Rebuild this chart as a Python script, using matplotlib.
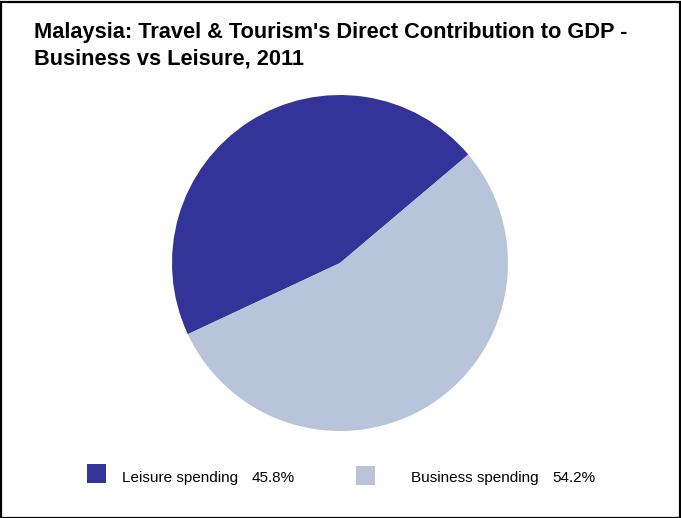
import matplotlib
matplotlib.use("Agg")
import matplotlib.pyplot as plt
from matplotlib.patches import Rectangle

plt.rcParams['font.family'] = ['Liberation Sans', 'DejaVu Sans']

labels = ['Leisure spending', 'Business spending']
shares = [45.8, 54.2]
colors = ['#333399', '#b7c4da']
title_lines = ["Malaysia: Travel & Tourism's Direct Contribution to GDP -",
               "Business vs Leisure, 2011"]

W, H = 681, 518
fig = plt.figure(figsize=(W / 100, H / 100), dpi=100)

# frame round the whole chart
fig.add_artist(Rectangle((0.5 / W, 0.5 / H), (W - 2) / W, (H - 2.5) / H,
                         transform=fig.transFigure, fill=False,
                         edgecolor='black', linewidth=1.6))

for i, line in enumerate(title_lines):
    fig.text(34 / W, 1 - (38 + 27 * i) / H, line,
             fontsize=15.7, fontweight='bold', ha='left', va='baseline')

# pie centred at (340, 263) px, radius 168 px
cx, cy, r = 340, 263, 168
ax = fig.add_axes([(cx - r) / W, (H - cy - r) / H, 2 * r / W, 2 * r / H])
ax.pie(shares, colors=colors, startangle=40.2, counterclock=True,
       radius=1.0, wedgeprops=dict(linewidth=0))
ax.set_xlim(-1, 1)
ax.set_ylim(-1, 1)
ax.set_aspect('equal')
ax.axis('off')

# legend row
box_x = [87, 356]
box_y = [464, 466]
text_x = [122, 411]
pct_x = [252, 552]
for i, lab in enumerate(labels):
    fig.add_artist(Rectangle((box_x[i] / W, 1 - (box_y[i] + 19) / H), 19 / W, 19 / H,
                             transform=fig.transFigure, facecolor=colors[i],
                             edgecolor='none'))
    fig.text(text_x[i] / W, 1 - 482 / H, lab, fontsize=11, va='baseline', ha='left')
    fig.text(pct_x[i] / W, 1 - 482 / H, f"{shares[i]:.1f}%", fontsize=11,
             va='baseline', ha='left')

fig.savefig('out.png', dpi=100)
